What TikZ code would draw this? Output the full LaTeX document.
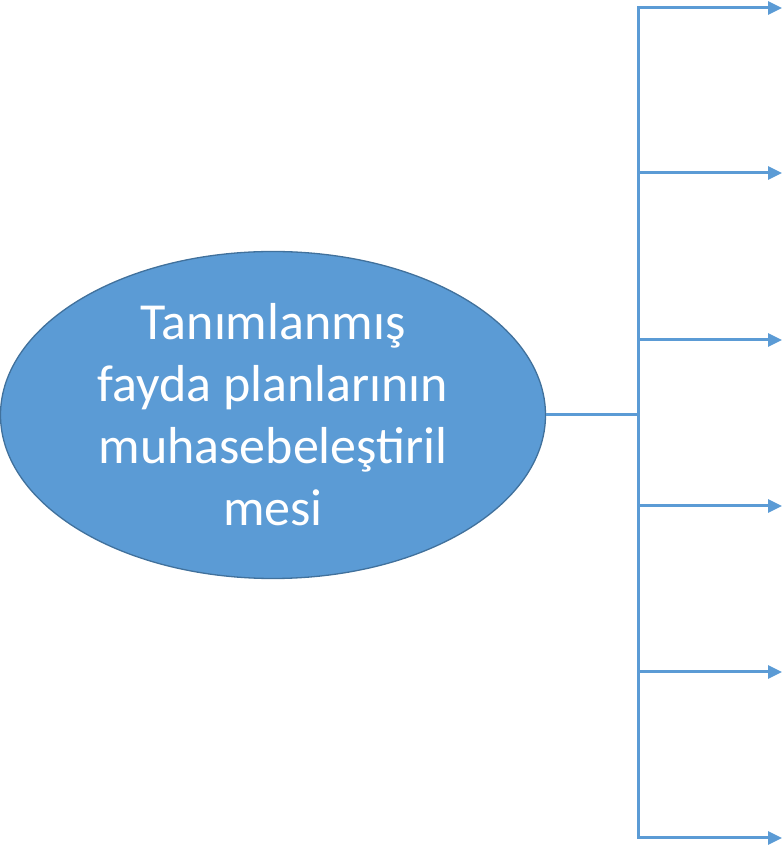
\documentclass[tikz,border=0pt]{standalone}
\usepackage{fontspec}
\setmainfont{Carlito}
\usetikzlibrary{positioning,shapes.geometric,arrows.meta}
\definecolor{topicfill}{HTML}{5B9BD5}
\definecolor{topicedge}{HTML}{41719C}
\definecolor{branch}{HTML}{5B9BD5}

\begin{document}
\begin{tikzpicture}[x=1pt, y=1pt,
    topic/.style={ellipse, draw=topicedge, line width=1.3pt, fill=topicfill,
      minimum width=545pt, minimum height=327pt, inner sep=0pt,
      text=white, align=center, font=\fontsize{52}{62}\selectfont},
    link/.style={draw=branch, line width=3pt},
    arr/.style={link, -{Triangle[length=14pt, width=13pt]}}]
    \useasboundingbox (0,0) rectangle (782,851);
    \node[topic] (plan) at (273,436) {Tanımlanmış\\fayda planlarının\\muhasebeleştiril\\mesi};
    \coordinate (hub) at (638,436);
    \coordinate (top) at (638,843);
    \coordinate (bot) at (638,13);
    \draw[link] (plan.east) -- (hub);
    \draw[link, line cap=rect] (top) -- (bot);
    \foreach \y [count=\i] in {843,678,511,345,179,13} {
      \coordinate (b\i) at (638,\y);
      \coordinate (e\i) at (782,\y);
      \draw[arr] (b\i) -- (e\i);
    }
  \end{tikzpicture}
\end{document}
